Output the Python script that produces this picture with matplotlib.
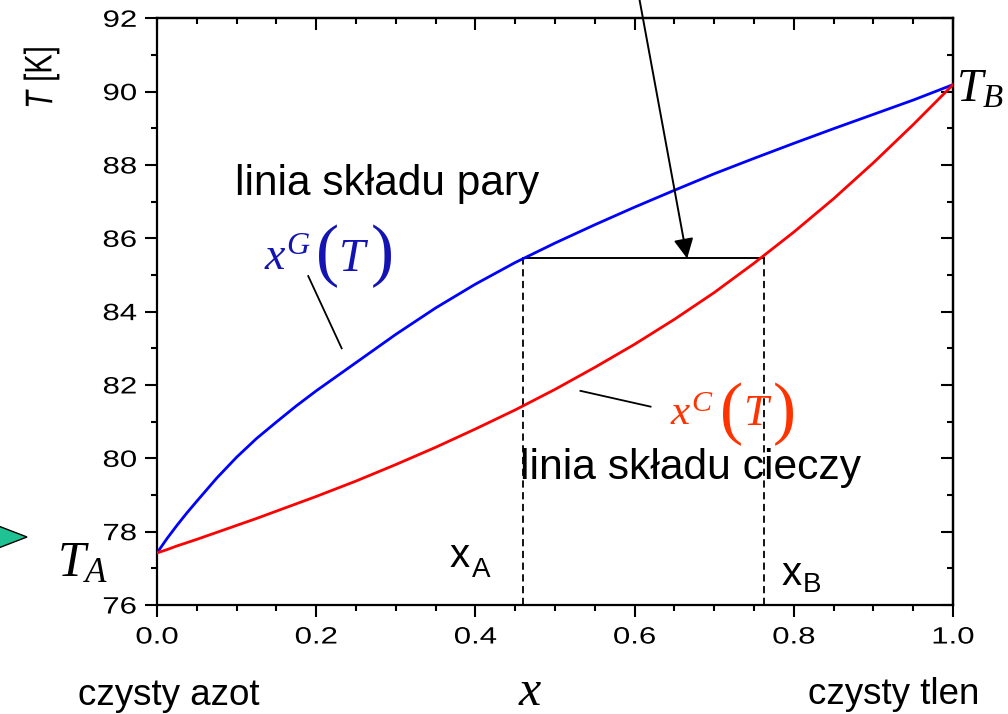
import numpy as np
import matplotlib
matplotlib.use("Agg")
import matplotlib.pyplot as plt
from matplotlib.patheffects import AbstractPathEffect
from matplotlib.transforms import Affine2D
from matplotlib.patches import Polygon

# ---------------- data ----------------
x_frac = [0.0, 0.0125, 0.025, 0.0375, 0.05, 0.075, 0.10, 0.125, 0.15, 0.175, 0.20,
          0.25, 0.30, 0.35, 0.40, 0.45, 0.50, 0.55, 0.60, 0.65, 0.70, 0.75,
          0.80, 0.85, 0.90, 0.95, 1.0]
T_vapor = [77.42, 77.81, 78.17, 78.51, 78.83, 79.46, 80.03, 80.54, 80.99, 81.43, 81.84,
           82.61, 83.38, 84.10, 84.75, 85.34, 85.87, 86.37, 86.85, 87.31, 87.76, 88.18,
           88.59, 88.99, 89.38, 89.77, 90.19]
T_liquid = [77.42, 77.51, 77.61, 77.70, 77.79, 77.98, 78.17, 78.36, 78.56, 78.76, 78.96,
            79.38, 79.83, 80.30, 80.80, 81.32, 81.88, 82.48, 83.11, 83.79, 84.52, 85.32,
            86.17, 87.08, 88.06, 89.10, 90.19]
T_tie = 85.45
x_A = 0.46
x_B = 0.763
x_ticks = [0.0, 0.2, 0.4, 0.6, 0.8, 1.0]
x_ticklabels = ["0.0", "0.2", "0.4", "0.6", "0.8", "1.0"]
y_ticks = [76, 78, 80, 82, 84, 86, 88, 90, 92]
y_ticklabels = ["76", "78", "80", "82", "84", "86", "88", "90", "92"]

W, H = 1008, 714
plt.rcParams['font.family'] = ['Liberation Sans', 'DejaVu Sans']
plt.rcParams['mathtext.fontset'] = 'custom'
plt.rcParams['mathtext.it'] = 'Liberation Serif:italic'
plt.rcParams['mathtext.rm'] = 'Liberation Serif'


class HStretch(AbstractPathEffect):
    """Stretch text horizontally (in display space) about an anchor."""
    def __init__(self, sx, anchor='center'):
        super().__init__()
        self.sx = sx
        self.anchor = anchor

    def draw_path(self, renderer, gc, tpath, affine, rgbFace=None):
        ext = tpath.get_extents(affine)
        if self.anchor == 'left':
            a = ext.x0
        elif self.anchor == 'right':
            a = ext.x1
        else:
            a = 0.5 * (ext.x0 + ext.x1)
        t = affine + Affine2D().translate(-a, 0).scale(self.sx, 1).translate(a, 0)
        renderer.draw_path(gc, tpath, t, rgbFace)


SX = 1.32

fig = plt.figure(figsize=(W / 100, H / 100), dpi=100)
L, R, B, T = 157, 953, 605, 18.3
ax = fig.add_axes([L / W, 1 - B / H, (R - L) / W, (B - T) / H])

ax.plot(x_frac, T_vapor, color='#0000ff', lw=2.0, zorder=3)
ax.plot(x_frac, T_liquid, color='#ff0000', lw=2.0, zorder=3)

# tie line and dashed verticals
ax.plot([x_A, x_B], [T_tie, T_tie], color='black', lw=1.4, zorder=2)
ax.plot([x_A, x_A], [76, T_tie], color='black', lw=1.3, dashes=(4, 2.5), zorder=2)
ax.plot([x_B, x_B], [76, T_tie], color='black', lw=1.3, dashes=(4, 2.5), zorder=2)

ax.set_xlim(0, 1)
ax.set_ylim(76, 92)
ax.set_xticks(x_ticks)
ax.set_xticklabels(x_ticklabels)
ax.set_xticks(np.arange(0, 1.0001, 0.05), minor=True)
ax.set_yticks(y_ticks)
ax.set_yticklabels(y_ticklabels)
ax.set_yticks(np.arange(76, 92.001, 1), minor=True)

for sp in ax.spines.values():
    sp.set_linewidth(1.6)
ax.tick_params(which='major', direction='out', length=8.5, width=1.5, labelsize=17,
               top=False, right=False)
ax.tick_params(which='minor', direction='out', length=4, width=1.5, top=False, right=False)
ax.tick_params(axis='x', which='major', pad=7)
ax.tick_params(axis='y', which='major', pad=6)

for t in ax.xaxis.get_major_ticks():
    t.label1.set_path_effects([HStretch(SX, 'center')])
for t in ax.yaxis.get_major_ticks():
    t.label1.set_path_effects([HStretch(SX, 'right')])

secx = ax.secondary_xaxis('top')
secx.set_xticks(x_ticks)
secx.set_xticks(np.arange(0, 1.0001, 0.05), minor=True)
secx.tick_params(which='major', direction='in', length=8.5, width=1.5, labeltop=False)
secx.tick_params(which='minor', direction='in', length=4, width=1.5)
secx.spines['top'].set_linewidth(1.6)

secy = ax.secondary_yaxis('right')
secy.set_yticks(y_ticks)
secy.set_yticks(np.arange(76, 92.001, 1), minor=True)
secy.tick_params(which='major', direction='in', length=8.5, width=1.5, labelright=False)
secy.tick_params(which='minor', direction='in', length=4, width=1.5)
secy.spines['right'].set_linewidth(1.6)


def fx(px):
    return px / W


def fy(py):
    return 1 - py / H


# y label "T [K]" (italic T, upright [K]), rotated
fig.text(fx(41), fy(100), 'T', rotation=90, ha='center', va='center', style='italic',
         fontsize=21, path_effects=[HStretch(SX, 'center')])
fig.text(fx(41), fy(64), '[K]', rotation=90, ha='center', va='center',
         fontsize=21, path_effects=[HStretch(SX, 'center')])

# sans texts
fig.text(fx(235), fy(195), 'linia składu pary', fontsize=30.5, ha='left', va='baseline')
fig.text(fx(520), fy(479), 'linia składu cieczy', fontsize=30.7, ha='left', va='baseline')
fig.text(fx(78), fy(705), 'czysty azot', fontsize=26.5, ha='left', va='baseline')
fig.text(fx(808), fy(704), 'czysty tlen', fontsize=26.5, ha='left', va='baseline')

# x_A, x_B
fig.text(fx(450), fy(567), 'x', fontsize=29, ha='left', va='baseline')
fig.text(fx(472), fy(577), 'A', fontsize=20, ha='left', va='baseline')
fig.text(fx(782), fy(585), 'x', fontsize=29, ha='left', va='baseline')
fig.text(fx(803), fy(592), 'B', fontsize=20, ha='left', va='baseline')

serif = 'Liberation Serif'


def st(px, py, s, size, color='black', style='italic'):
    fig.text(fx(px), fy(py), s, fontsize=size, ha='left', va='baseline',
             family=serif, style=style, color=color)


# T_A, T_B, x axis label
st(57, 576, r'$T_A$', 36)
st(956, 102, r'$T_B$', 34)
st(519, 705, 'x', 36)

# x^G(T)
cg = '#1414b4'
st(264, 270, r'$x^{G}$', 33, cg)
st(316, 273, '(', 50, cg, 'normal')
st(339, 271, 'T', 34, cg)
st(371, 273, ')', 50, cg, 'normal')

# x^C(T)
cc = '#ff3300'
st(670, 425, r'$x^{C}$', 31, cc)
st(720, 431, '(', 50, cc, 'normal')
st(743, 425, 'T', 32, cc)
st(773, 431, ')', 50, cc, 'normal')

# leader lines
ax.plot([0.190, 0.232], [84.97, 83.00], color='black', lw=1.3, clip_on=False)
ax.plot([0.532, 0.620], [81.84, 81.41], color='black', lw=1.3, clip_on=False)

# arrow from above
ax.annotate('', xy=(0.666, T_tie), xycoords='data',
            xytext=(fx(637), fy(-14)), textcoords='figure fraction',
            arrowprops=dict(arrowstyle='-|>,head_length=0.4,head_width=0.2',
                            mutation_scale=30, color='black', lw=1.4,
                            shrinkA=0, shrinkB=0), annotation_clip=False)

# green triangle at left edge
tri = Polygon([[fx(-12), fy(522)], [fx(27), fy(537)], [fx(-12), fy(552)]],
              closed=True, transform=fig.transFigure, facecolor='#1fc393',
              edgecolor='black', lw=1.0, clip_on=False)
fig.patches.append(tri)

fig.savefig('out.png', dpi=100)
